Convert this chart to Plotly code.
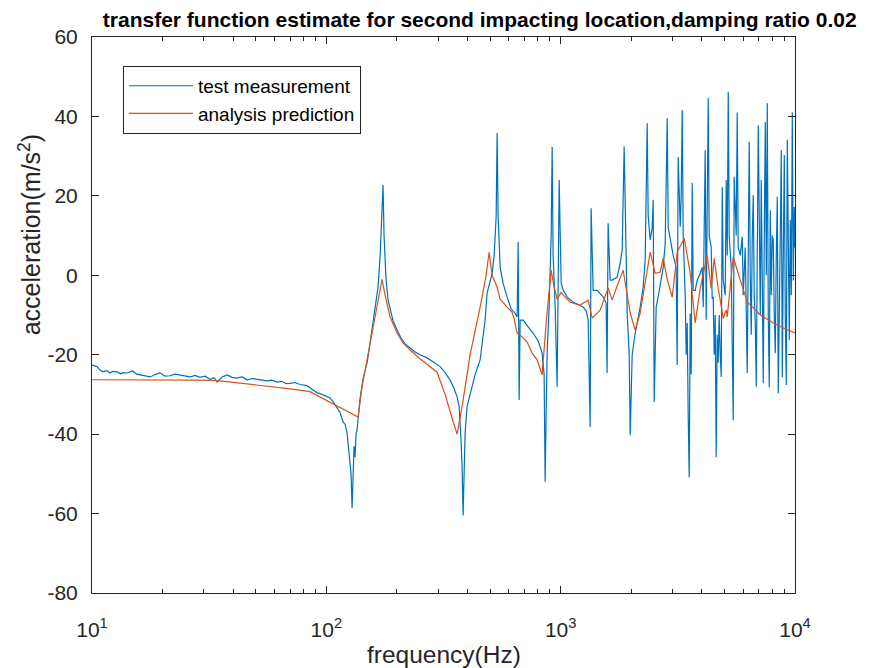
import plotly.graph_objects as go

# ---- data ----
meas_freq = [
    10.0, 10.5, 10.8, 11.1, 11.6, 11.9, 12.3, 12.8, 13.2, 13.6, 14.1, 14.9, 15.5, 16.0, 16.8, 17.7,
    18.6, 19.5, 20.5, 21.5, 22.6, 23.7, 24.9, 26.2, 27.5, 28.9, 30.4, 31.9, 33.2, 34.2, 35.9, 37.7,
    39.6, 41.5, 43.7, 46.0, 48.1, 50.6, 53.1, 55.8, 58.6, 61.6, 64.7, 67.3, 70.0, 73.5, 77.2, 79.5,
    82.7, 85.2, 88.6, 91.3, 94.0, 96.9, 100.0, 103.7, 106.8, 111.1, 114.4, 117.8, 120.2, 122.6,
    123.8, 126.2, 127.5, 128.8, 130.0, 131.3, 132.6, 133.9, 135.2, 136.6, 139.3, 143.5, 149.3,
    153.7, 158.3, 163.0, 166.2, 169.5, 171.2, 172.9, 174.6, 176.3, 178.1, 179.8, 183.4, 187.1,
    192.7, 200.4, 208.4, 216.8, 227.7, 239.2, 251.2, 269.1, 285.6, 305.8, 321.2, 337.4, 350.9,
    361.4, 368.6, 372.3, 376.0, 379.7, 383.4, 387.2, 391.0, 398.8, 410.7, 431.4, 453.2, 466.8,
    476.0, 485.4, 500.0, 510.0, 520.2, 530.6, 535.5, 540.8, 551.6, 568.0, 590.9, 614.6, 639.7,
    652.0, 658.5, 665.0, 671.5, 691.6, 726.4, 763.2, 801.5, 833.6, 850.0, 858.5, 866.9, 875.5,
    892.8, 901.9, 910.8, 919.8, 928.8, 947.1, 965.9, 985.5, 995.2, 1005, 1025, 1066, 1131, 1188,
    1247, 1285, 1310, 1336, 1349, 1376, 1431, 1517, 1563, 1578, 1594, 1626, 1658, 1741, 1794,
    1830, 1866, 1903, 1922, 1961, 1980, 2019, 2079, 2184, 2249, 2294, 2340, 2363, 2410, 2458,
    2482, 2507, 2556, 2607, 2659, 2738, 2793, 2849, 2877, 2934, 3021, 3111, 3142, 3173, 3237,
    3269, 3301, 3334, 3400, 3433, 3467, 3501, 3536, 3571, 3606, 3641, 3677, 3750, 3825, 3940,
    4018, 4058, 4138, 4179, 4262, 4304, 4389, 4432, 4476, 4520, 4565, 4610, 4655, 4701, 4748,
    4797, 4844, 4892, 4940, 5038, 5088, 5138, 5189, 5240, 5344, 5449, 5503, 5612, 5667, 5723,
    5839, 5954, 6013, 6132, 6192, 6253, 6315, 6377, 6443, 6507, 6571, 6636, 6701, 6768, 6835,
    6902, 6970, 7039, 7109, 7179, 7250, 7321, 7394, 7467, 7541, 7615, 7690, 7766, 7843, 7920,
    7999, 8078, 8158, 8238, 8320, 8402, 8485, 8569, 8654, 8739, 8826, 8913, 9001, 9090, 9180,
    9270, 9362, 9455, 9548, 9643, 9738, 9834, 9931, 10000,
]
meas_accel = [
    -22.6, -23.0, -23.8, -24.3, -24.0, -24.6, -24.2, -24.3, -24.8, -24.5, -24.6, -24.1, -24.9, -25.1, -25.3, -25.6,
    -25.0, -24.6, -25.4, -25.3, -24.9, -25.1, -25.4, -25.6, -25.2, -25.7, -25.4, -26.2, -25.8, -26.9, -25.6, -25.1,
    -25.7, -25.9, -25.6, -26.4, -26.0, -26.2, -26.5, -26.6, -26.4, -26.9, -26.7, -27.3, -27.2, -27.0, -27.5, -27.6,
    -27.8, -28.3, -29.0, -29.6, -29.8, -30.2, -30.6, -30.9, -31.8, -33.2, -34.5, -36.9, -37.5, -39.7,
    -42.0, -46.4, -50.0, -58.6, -48.0, -43.0, -45.8, -40.0, -39.0, -35.7, -31.0, -26.0, -22.0,
    -17.0, -12.0, -7.0, -3.0, 4.5, 10.0, 17.0, 22.7, 10.0, 3.0, -1.0, -6.2, -8.5,
    -11.5, -13.8, -15.8, -17.3, -18.3, -19.3, -20.0, -20.8, -21.8, -23.0, -24.5, -26.4, -28.5,
    -30.6, -33.0, -36.4, -42.0, -48.3, -60.5, -50.0, -39.8, -33.0, -29.7, -25.0, -21.3, -16.0,
    -11.3, -4.5, -1.5, 0.5, 5.0, 15.0, 35.8, 15.0, 2.0, -2.0, -5.5, -8.5, -9.6,
    -10.5, 8.4, -31.4, -11.3, -11.3, -13.0, -14.6, -16.5, -19.6, -25.0, -52.0, -35.0, -19.6,
    -8.0, 1.3, 10.0, 32.3, 5.0, -7.9, -28.1, 24.0, 5.0, -2.0, -3.7, -5.5, -6.8, -7.4,
    -8.0, -9.0, -11.2, -38.2, 16.9, -3.8, -3.8, -5.4, -7.0, -24.6, 13.1, -1.2, -1.2, -0.5, 3.0,
    6.3, 32.4, 5.0, -9.5, -20.0, -40.3, -20.0, -14.6, -8.0, -3.0, 3.8, 38.3, 15.0, 8.9, 12.0,
    19.0, -31.9, -8.0, -5.4, -2.0, 2.0, 8.0, 39.6, 12.0, 8.8, 5.0, 2.0, -22.6, 29.8, 12.2,
    20.0, 41.6, 10.0, -5.4, -20.0, -12.0, -35.0, -50.9, -9.6, -25.0, 23.3, -3.8, -3.8, -1.3, 0.5,
    2.0, -8.0, 31.5, -11.2, 44.6, 10.0, 7.1, -6.0, -5.4, -20.0, -10.0, -45.8, -15.0, -22.0, -10.0,
    -20.0, -25.6, 22.2, -1.2, -5.0, 24.0, 5.0, 46.2, 9.7, 2.0, -36.5, 24.8, 10.0, 41.0, 7.0,
    5.0, 9.7, -5.0, 7.0, -10.0, -24.6, 5.0, 33.6, 0.0, -15.0, 9.7, 20.2, -5.0, -12.0, -28.0,
    5.0, 37.8, 14.0, -10.0, 24.0, 0.0, -27.2, 10.0, 38.6, 0.0, 43.3, -10.0, -28.2, 16.4, -5.0,
    10.0, 8.8, -10.0, -19.6, 5.0, 19.8, -29.7, 0.0, 10.0, 31.5, -25.7, 5.0, 30.3, -10.0, -27.6,
    34.1, 0.0, -16.3, 14.0, -5.0, 41.0, -1.3, 17.2, 7.0,
]

pred_freq = [
    10.0, 17.7, 28.9, 34.2, 42.8, 52.1, 70.0, 85.2, 103.7, 136.6, 142.1, 153.7, 164.6, 172.9,
    178.1, 187.1, 200.4, 212.6, 227.7, 251.2, 296.9, 321.2, 344.0, 361.4, 379.7, 410.7, 453.2,
    480.6, 495.0, 510.0, 535.5, 551.6, 590.9, 620.7, 633.0, 652.0, 684.9, 719.3, 756.0, 793.7,
    833.6, 867.0, 910.8, 938.0, 965.9, 1005, 1045, 1098, 1211, 1310, 1363, 1474, 1594, 1658,
    1759, 1848, 1980, 2079, 2184, 2294, 2410, 2532, 2659, 2738, 2849, 2992, 3142, 3368, 3571,
    3750, 3940, 4220, 4389, 4520, 4701, 4940, 5088, 5138, 5449, 5839, 6253, 7109, 8078, 9090,
    10000,
]
pred_accel = [
    -26.3, -26.3, -26.4, -26.5, -27.1, -27.8, -28.6, -29.3, -32.0, -35.7, -28.0, -17.0, -8.0, -1.0,
    -5.0, -10.5, -14.5, -17.0, -18.8, -21.0, -24.4, -30.0, -36.0, -40.0, -33.0, -20.0, -8.0,
    0.0, 5.8, 0.0, -3.0, -6.0, -8.0, -9.3, -11.0, -14.6, -15.5, -16.8, -19.6, -21.3,
    -25.1, -12.0, 1.3, -3.0, -6.0, -4.3, -5.5, -6.8, -7.5, -6.3, -10.8, -8.8, -3.2, -6.2,
    -2.0, 1.3, -9.5, -13.8, -9.5, -2.0, 5.8, 0.5, 0.8, 4.3, -1.0, -5.5, 5.8, 9.3, 0.5,
    -12.0, -3.3, 5.0, -3.3, 4.3, -3.3, -10.8, -8.7, -10.5, 4.6, -1.2, -6.7, -10.0, -12.0, -13.5,
    -14.5,
]

series_names = ["test measurement", "analysis prediction"]
x_tick_vals = [10, 100, 1000, 10000]
x_tick_text = ["10<sup>1</sup>", "10<sup>2</sup>", "10<sup>3</sup>", "10<sup>4</sup>"]
y_tick_vals = [-80, -60, -40, -20, 0, 20, 40, 60]
y_tick_text = ["-80", "-60", "-40", "-20", "0", "20", "40", "60"]
minor_vals = [m * d for d in (10, 100, 1000) for m in range(2, 10)]

FONT = "Liberation Sans, Arial, sans-serif"
AX = "#262626"

fig = go.Figure()
fig.add_trace(go.Scatter(x=meas_freq, y=meas_accel, mode="lines", name=series_names[0],
                         line=dict(color="#0072BD", width=1.2)))
fig.add_trace(go.Scatter(x=pred_freq, y=pred_accel, mode="lines", name=series_names[1],
                         line=dict(color="#D95319", width=1.2)))

fig.update_layout(
    width=864, height=660,
    margin=dict(l=84, r=77, t=29, b=75),
    paper_bgcolor="white", plot_bgcolor="white",
    font=dict(family=FONT, color=AX),
    title=dict(text="<b>transfer function estimate for second impacting location,damping ratio 0.02</b>",
               x=0.546, xanchor="center", y=0.994, yanchor="top", pad=dict(t=0, b=0),
               font=dict(size=21, color="black", family=FONT)),
    showlegend=True,
    legend=dict(x=0.044, y=0.948, xanchor="left", yanchor="top",
                bgcolor="white", bordercolor=AX, borderwidth=1, itemwidth=64,
                font=dict(size=19, color="black", family=FONT), tracegroupgap=0),
    xaxis=dict(type="log", range=[1, 4], tickmode="array", tickvals=x_tick_vals, ticktext=x_tick_text,
               ticks="inside", ticklen=7, tickcolor=AX, showline=True, linecolor=AX, linewidth=1,
               mirror="ticks", showgrid=False, zeroline=False,
               tickfont=dict(size=21, color=AX), ticklabelstandoff=18,
               minor=dict(tickmode="array", tickvals=minor_vals, ticks="inside", ticklen=4, tickcolor=AX,
                          showgrid=False)),
    yaxis=dict(range=[-80, 60], tickmode="array", tickvals=y_tick_vals, ticktext=y_tick_text,
               ticks="inside", ticklen=7, tickcolor=AX, showline=True, linecolor=AX, linewidth=1,
               mirror="ticks", showgrid=False, zeroline=False,
               tickfont=dict(size=21, color=AX), ticklabelstandoff=9),
    annotations=[
        dict(text="frequency(Hz)", xref="paper", yref="paper", x=0.5, y=-0.1115,
             xanchor="center", yanchor="middle", showarrow=False,
             font=dict(size=24.5, color=AX, family=FONT)),
        dict(text="acceleration(m/s<sup>2</sup>)", xref="paper", yref="paper", x=-0.0883, y=0.645,
             xanchor="center", yanchor="middle", textangle=-90, showarrow=False,
             font=dict(size=25, color=AX, family=FONT)),
    ],
)

fig.write_html("out.html")
